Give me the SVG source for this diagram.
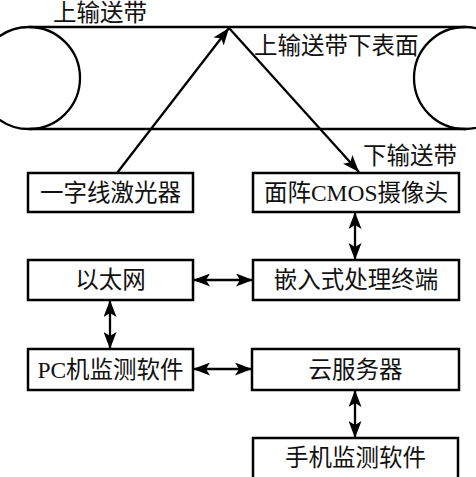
<svg xmlns="http://www.w3.org/2000/svg" width="476" height="477" viewBox="0 0 476 477">
<defs>
<marker id="ah" viewBox="0 0 17 13" refX="17" refY="6.5" markerWidth="17" markerHeight="13" markerUnits="userSpaceOnUse" orient="auto-start-reverse">
<path d="M0,0 L17,6.5 L0,13 L4,6.5 Z" fill="#000"/>
</marker>
</defs>
<style>
.box{fill:#fff;stroke:#000;stroke-width:2.5}
.ln{fill:none;stroke:#000;stroke-width:2.3}
.t{font-family:"Liberation Serif","Noto Sans CJK SC",serif;font-size:23.5px;fill:#111;text-anchor:middle;dominant-baseline:central}
.lbl{font-family:"Liberation Serif","Noto Sans CJK SC",serif;font-size:23.5px;fill:#111}
</style>
<rect width="476" height="477" fill="#fff"/>
<g id="belt">
<circle cx="29" cy="78" r="51" class="ln"/>
<circle cx="465" cy="78" r="51" class="ln"/>
<line x1="29" y1="27" x2="466" y2="27" class="ln"/>
<line x1="29" y1="129" x2="466" y2="129" class="ln"/>
<text class="lbl" x="53" y="21">上输送带</text>
<text class="lbl" x="254" y="54">上输送带下表面</text>
<text class="lbl" x="363" y="164">下输送带</text>
</g>
<g id="laser"><rect class="box" x="28" y="173" width="165" height="39"/><text class="t" x="110.5" y="192.5">一字线激光器</text></g>
<g id="cmos"><rect class="box" x="253" y="173" width="206" height="39"/><text class="t" x="356" y="192.5">面阵CMOS摄像头</text></g>
<g id="ethernet"><rect class="box" x="28" y="260" width="165" height="40"/><text class="t" x="110.5" y="280">以太网</text></g>
<g id="embedded"><rect class="box" x="253" y="260" width="206" height="40"/><text class="t" x="356" y="280">嵌入式处理终端</text></g>
<g id="pc"><rect class="box" x="28" y="349" width="165" height="41"/><text class="t" x="110.5" y="369.5">PC机监测软件</text></g>
<g id="cloud"><rect class="box" x="252" y="349" width="207" height="41"/><text class="t" x="355.5" y="369.5">云服务器</text></g>
<g id="phone"><rect class="box" x="253" y="438" width="205" height="50"/><text class="t" x="355.5" y="458">手机监测软件</text></g>
<g id="connectors">
<line class="ln" x1="117" y1="173" x2="229" y2="28" marker-end="url(#ah)"/>
<line class="ln" x1="229" y1="28" x2="359" y2="172" marker-end="url(#ah)"/>
<line class="ln" x1="355" y1="212" x2="355" y2="260" marker-start="url(#ah)" marker-end="url(#ah)"/>
<line class="ln" x1="193" y1="280" x2="253" y2="280" marker-start="url(#ah)" marker-end="url(#ah)"/>
<line class="ln" x1="110" y1="300" x2="110" y2="349" marker-start="url(#ah)" marker-end="url(#ah)"/>
<line class="ln" x1="193" y1="369" x2="252" y2="369" marker-start="url(#ah)" marker-end="url(#ah)"/>
<line class="ln" x1="355" y1="390" x2="355" y2="438" marker-start="url(#ah)" marker-end="url(#ah)"/>
</g>
</svg>
